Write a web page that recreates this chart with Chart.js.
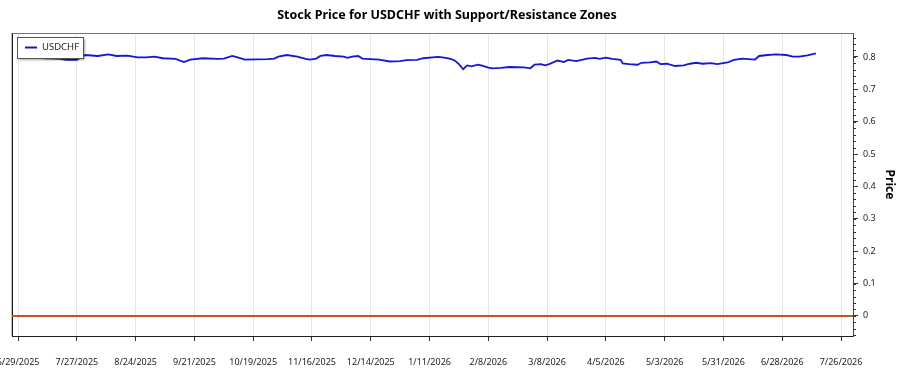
<!DOCTYPE html>
<html lang="en">
  <head>
    <meta charset="UTF-8" />
    <script src="https://cdn.jsdelivr.net/npm/chart.js"></script>
    <style>
      html, body { margin: 0; padding: 0; background: #fff; }
      #wrap { width: 900px; height: 375px; }
    </style>
    <title>USDCHF</title>
  </head>
  <body>
    <div id="wrap"><canvas id="grafico"></canvas></div>
  </body>
</html>

<script>
  // dados
  const datas = [
    "2025-06-30", "2025-07-05", "2025-07-12", "2025-07-19", "2025-07-22", "2025-07-27",
    "2025-07-29", "2025-07-31", "2025-08-06", "2025-08-11", "2025-08-15", "2025-08-20",
    "2025-08-25", "2025-08-29", "2025-09-02", "2025-09-06", "2025-09-12", "2025-09-16",
    "2025-09-19", "2025-09-25", "2025-10-02", "2025-10-05", "2025-10-09", "2025-10-12",
    "2025-10-15", "2025-10-26", "2025-10-29", "2025-10-31", "2025-11-04", "2025-11-09",
    "2025-11-13", "2025-11-15", "2025-11-18", "2025-11-20", "2025-11-23", "2025-11-27",
    "2025-12-01", "2025-12-03", "2025-12-05", "2025-12-08", "2025-12-10", "2025-12-18",
    "2025-12-23", "2025-12-28", "2025-12-31", "2026-01-05", "2026-01-08", "2026-01-15",
    "2026-01-18", "2026-01-21", "2026-01-23", "2026-01-25", "2026-01-27", "2026-01-29",
    "2026-01-31", "2026-02-03", "2026-02-05", "2026-02-08", "2026-02-10", "2026-02-14",
    "2026-02-18", "2026-02-25", "2026-02-28", "2026-03-02", "2026-03-05", "2026-03-07",
    "2026-03-09", "2026-03-13", "2026-03-16", "2026-03-18", "2026-03-22", "2026-03-27",
    "2026-03-31", "2026-04-02", "2026-04-05", "2026-04-08", "2026-04-12", "2026-04-13",
    "2026-04-16", "2026-04-20", "2026-04-22", "2026-04-26", "2026-04-29", "2026-05-01",
    "2026-05-04", "2026-05-08", "2026-05-12", "2026-05-15", "2026-05-18", "2026-05-21",
    "2026-05-25", "2026-05-28", "2026-06-02", "2026-06-05", "2026-06-09", "2026-06-15",
    "2026-06-17", "2026-06-21", "2026-06-25", "2026-06-30", "2026-07-03", "2026-07-06",
    "2026-07-10", "2026-07-14"
  ];
  const precos = [
    0.797, 0.798, 0.796, 0.794, 0.791, 0.791,
    0.799, 0.806, 0.803, 0.808, 0.803, 0.804,
    0.799, 0.799, 0.801, 0.796, 0.794, 0.784,
    0.792, 0.796, 0.794, 0.795, 0.803, 0.798,
    0.792, 0.793, 0.795, 0.801, 0.806, 0.801,
    0.794, 0.792, 0.795, 0.803, 0.806, 0.803,
    0.801, 0.797, 0.801, 0.803, 0.795, 0.792,
    0.786, 0.787, 0.790, 0.791, 0.796, 0.800,
    0.798, 0.794, 0.789, 0.778, 0.762, 0.774,
    0.771, 0.776, 0.773, 0.767, 0.765, 0.766,
    0.769, 0.768, 0.765, 0.776, 0.778, 0.774,
    0.778, 0.789, 0.784, 0.791, 0.787, 0.795,
    0.797, 0.794, 0.798, 0.794, 0.791, 0.780,
    0.778, 0.776, 0.782, 0.783, 0.786, 0.778,
    0.779, 0.772, 0.774, 0.779, 0.782, 0.779,
    0.781, 0.778, 0.783, 0.791, 0.795, 0.792,
    0.803, 0.806, 0.808, 0.806, 0.801, 0.801,
    0.805, 0.811
  ];
  const suportes = [0];
  const ticksDatas = [
    "2025-06-29", "2025-07-27", "2025-08-24", "2025-09-21", "2025-10-19",
    "2025-11-16", "2025-12-14", "2026-01-11", "2026-02-08", "2026-03-08",
    "2026-04-05", "2026-05-03", "2026-05-31", "2026-06-28", "2026-07-26"
  ];
  const ticksPreco = [0, 0.1, 0.2, 0.3, 0.4, 0.5, 0.6, 0.7, 0.8];

  const DIA = 86400000;
  function paraMs(s) {
    const p = s.split("-");
    return Date.UTC(+p[0], +p[1] - 1, +p[2]);
  }
  function formatar(ms) {
    const d = new Date(ms);
    return (d.getUTCMonth() + 1) + "/" + d.getUTCDate() + "/" + d.getUTCFullYear();
  }

  const xMin = paraMs(ticksDatas[0]) - 2.9 * DIA;
  const xMax = paraMs(ticksDatas[ticksDatas.length - 1]) + 5.7 * DIA;

  const fonte = "'Noto Sans', 'Open Sans', sans-serif";

  let pontos = [];
  for (let i = 0; i < datas.length; i++) {
    pontos.push({ x: paraMs(datas[i]), y: precos[i] });
  }

  let datasets = [
    {
      label: "USDCHF",
      data: pontos,
      borderColor: "#1616d4",
      borderWidth: 1.8,
      pointRadius: 0,
      tension: 0,
      xAxisID: "x",
      yAxisID: "y",
      order: 1,
    },
  ];
  suportes.forEach(function (nivel) {
    datasets.push({
      label: "suporte",
      data: [{ x: xMin, y: nivel }, { x: xMax, y: nivel }],
      borderColor: "#c4532c",
      borderWidth: 2,
      pointRadius: 0,
      xAxisID: "x",
      yAxisID: "y",
      order: 2,
    });
  });

  // borda do grafico, ticks menores e legenda com caixa
  const extras = {
    id: "extras",
    beforeDatasetsDraw(chart) {
      const a = chart.chartArea;
      const ctx = chart.ctx;
      ctx.save();
      ctx.strokeStyle = "#777";
      ctx.lineWidth = 1;
      ctx.beginPath();
      ctx.moveTo(a.left, a.bottom);
      ctx.lineTo(a.left, a.top + 0.5);
      ctx.lineTo(a.right, a.top + 0.5);
      ctx.stroke();
      ctx.strokeStyle = "#222";
      ctx.beginPath();
      ctx.moveTo(a.left + 0.5, a.top);
      ctx.lineTo(a.left + 0.5, a.bottom);
      ctx.stroke();
      ctx.restore();
    },
    afterDraw(chart) {
      const a = chart.chartArea;
      const ctx = chart.ctx;
      const y = chart.scales.y;
      ctx.save();
      ctx.strokeStyle = "#333";
      ctx.lineWidth = 1;
      for (let v = -0.06; v <= 0.87; v += 0.02) {
        const py = Math.round(y.getPixelForValue(v)) + 0.5;
        ctx.beginPath();
        ctx.moveTo(a.right, py);
        ctx.lineTo(a.right + 3, py);
        ctx.stroke();
      }

      // legenda
      const ds = chart.data.datasets[0];
      const lx = a.left + 5, ly = a.top + 4, lw = 66, lh = 21;
      ctx.shadowColor = "rgba(0,0,0,0.35)";
      ctx.shadowOffsetX = 2;
      ctx.shadowOffsetY = 2;
      ctx.shadowBlur = 2;
      ctx.fillStyle = "#fff";
      ctx.fillRect(lx, ly, lw, lh);
      ctx.shadowColor = "transparent";
      ctx.strokeStyle = "#555";
      ctx.strokeRect(lx + 0.5, ly + 0.5, lw, lh);
      ctx.strokeStyle = ds.borderColor;
      ctx.lineWidth = 2;
      ctx.beginPath();
      ctx.moveTo(lx + 8, ly + 10.5);
      ctx.lineTo(lx + 20, ly + 10.5);
      ctx.stroke();
      ctx.fillStyle = "#222";
      ctx.font = "9.5px " + fonte;
      ctx.textBaseline = "middle";
      ctx.fillText(ds.label, lx + 25, ly + 10.5);
      ctx.restore();
    },
  };

  const config = {
    type: "line",
    data: { datasets: datasets },
    options: {
      responsive: false,
      animation: false,
      layout: { padding: { left: -6, right: 0, top: 0, bottom: 0 } },
      plugins: {
        legend: { display: false },
        tooltip: { enabled: false },
        title: {
          display: true,
          text: "Stock Price for USDCHF with Support/Resistance Zones",
          color: "#000",
          font: { family: fonte, size: 12.5, weight: "bold" },
          padding: { top: 8, bottom: 10 },
        },
      },
      scales: {
        x: {
          type: "linear",
          min: xMin,
          max: xMax,
          afterBuildTicks: function (escala) {
            escala.ticks = ticksDatas.map(function (s) { return { value: paraMs(s) }; });
          },
          afterFit: function (escala) {
            escala.paddingLeft = 0;
            escala.paddingRight = 0;
            escala.height = 39;
          },
          ticks: {
            autoSkip: false,
            maxRotation: 0,
            padding: 16,
            color: "#222",
            font: { family: fonte, size: 9 },
            callback: function (v) { return formatar(v); },
          },
          grid: {
            color: "#e6e6e6",
            tickColor: "#333",
            tickLength: 5,
          },
          border: { color: "#222", width: 1 },
        },
        y: {
          position: "right",
          min: -0.062,
          max: 0.874,
          afterBuildTicks: function (escala) {
            escala.ticks = ticksPreco.map(function (v) { return { value: v }; });
          },
          afterFit: function (escala) {
            escala.width = 47;
          },
          ticks: {
            padding: 5,
            color: "#222",
            font: { family: fonte, size: 9 },
            callback: function (v) { return String(v); },
          },
          grid: {
            drawOnChartArea: false,
            tickColor: "#333",
            tickLength: 5,
          },
          border: { color: "#444", width: 1 },
          title: {
            display: true,
            text: "Price",
            color: "#000",
            font: { family: fonte, size: 12, weight: "bold" },
            padding: { top: 3, bottom: 6 },
          },
        },
        // eixo vazio so para a margem esquerda
        margem: {
          axis: "y",
          position: "left",
          min: 0,
          max: 1,
          afterFit: function (escala) {
            escala.width = 18;
            escala.paddingTop = 0;
            escala.paddingBottom = 0;
          },
          ticks: { display: false },
          grid: { display: false },
          border: { display: false },
        },
      },
    },
    plugins: [extras],
  };

  const cv = document.getElementById("grafico");
  cv.width = 900;
  cv.height = 375;
  new Chart(cv, config);
</script>
